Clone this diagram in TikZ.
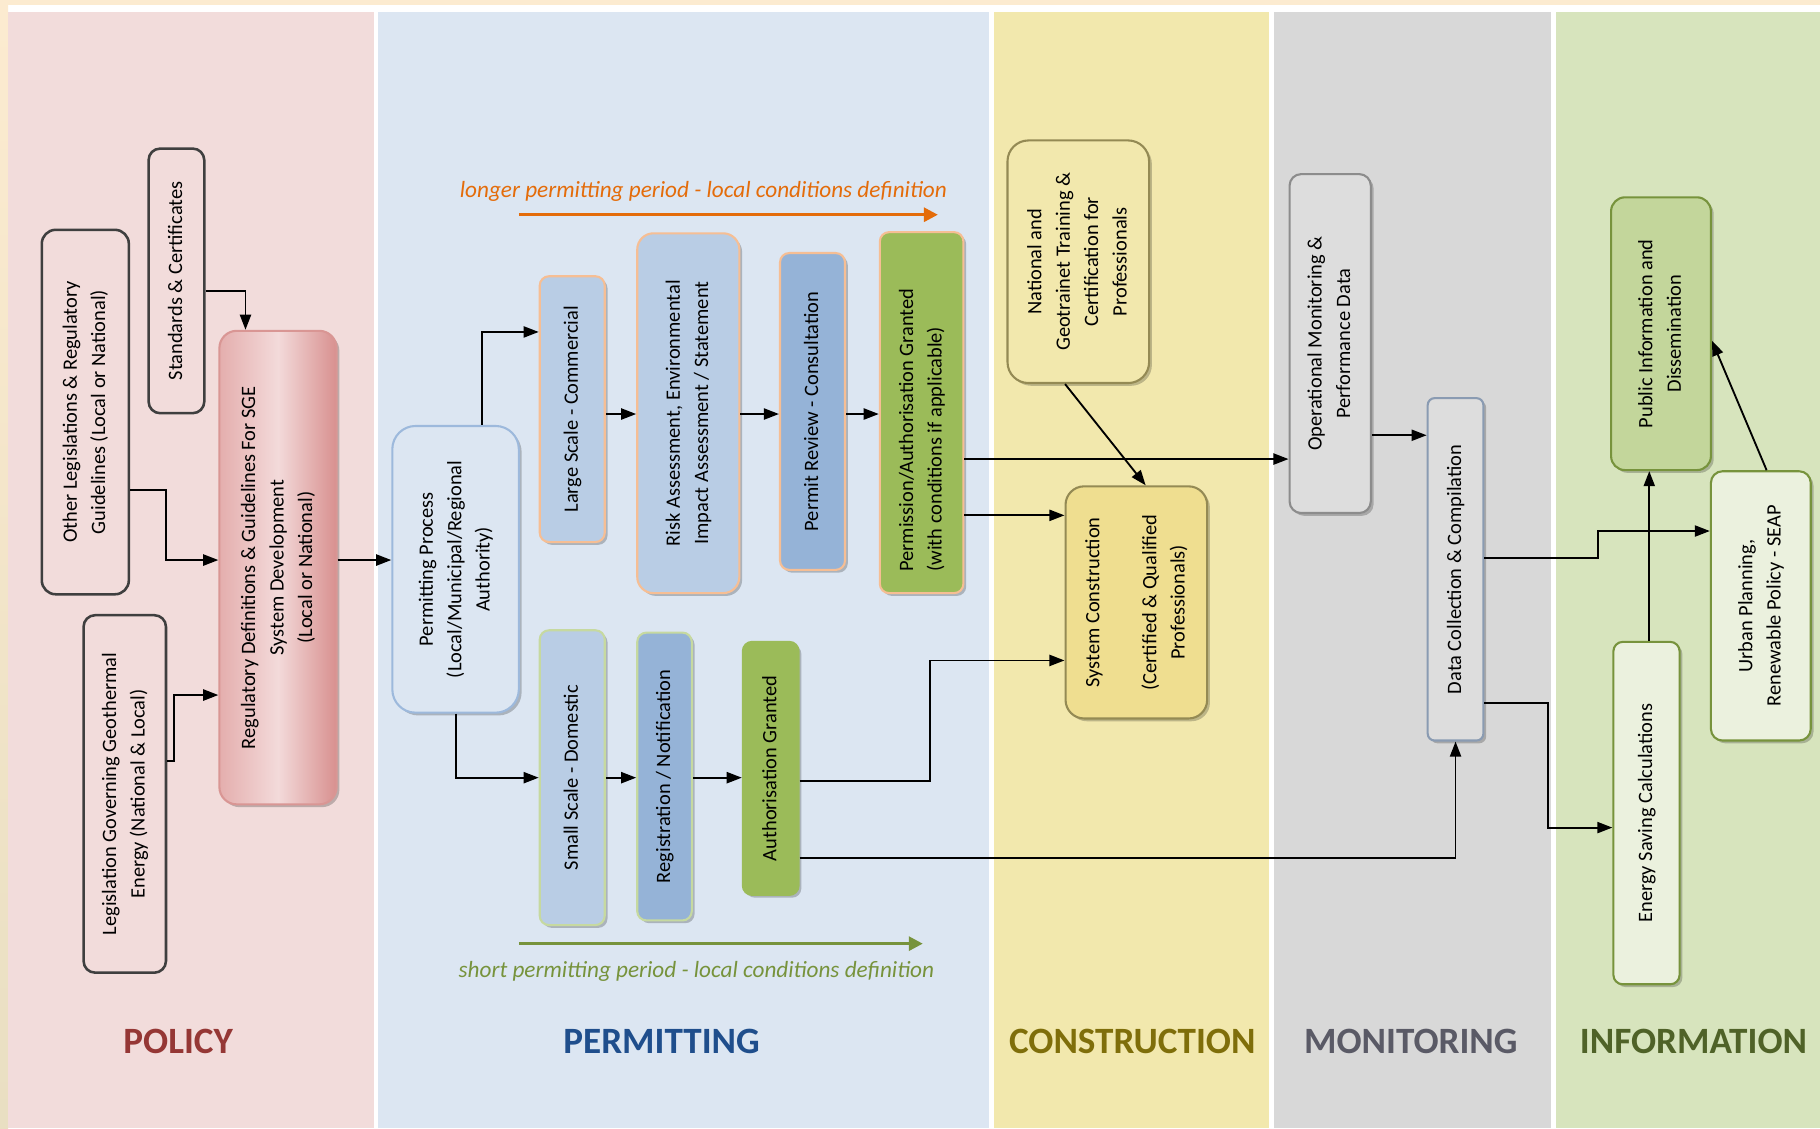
\documentclass[tikz,border=0pt]{standalone}
\usepackage{fontspec}
\setmainfont{Carlito}
\usepackage{graphicx}
\usetikzlibrary{arrows.meta,shadows,calc}

\definecolor{creamBg}{HTML}{FCEBD0}
\definecolor{creamDark}{HTML}{E9DFC2}
\definecolor{policyBg}{HTML}{F2DCDB}
\definecolor{permitBg}{HTML}{DCE6F2}
\definecolor{constrBg}{HTML}{F2E8AD}
\definecolor{monitorBg}{HTML}{D8D8D8}
\definecolor{infoBg}{HTML}{D7E4BD}
\definecolor{policyHead}{HTML}{953735}
\definecolor{permitHead}{HTML}{1F4E8C}
\definecolor{constrHead}{HTML}{7F6E0A}
\definecolor{monitorHead}{HTML}{5A5A66}
\definecolor{infoHead}{HTML}{4F6228}
\definecolor{policyLine}{HTML}{3F3F3F}
\definecolor{regLeft}{HTML}{E4AEAD}
\definecolor{regMid}{HTML}{F3DADA}
\definecolor{regRight}{HTML}{D8908F}
\definecolor{regLine}{HTML}{D99694}
\definecolor{paleBlue}{HTML}{B9CDE5}
\definecolor{midBlue}{HTML}{95B3D7}
\definecolor{procLine}{HTML}{9DB9DC}
\definecolor{peachLine}{HTML}{F6BE94}
\definecolor{leafGreen}{HTML}{9BBB59}
\definecolor{lightGreenLine}{HTML}{C6D9A0}
\definecolor{oliveLine}{HTML}{948A54}
\definecolor{constrFill}{HTML}{EFDE90}
\definecolor{greyFill}{HTML}{DDDDDD}
\definecolor{greyLine}{HTML}{8C8C8C}
\definecolor{slateLine}{HTML}{8A9BB2}
\definecolor{infoFill}{HTML}{C3D69B}
\definecolor{infoPale}{HTML}{EBF1DE}
\definecolor{infoLine}{HTML}{77933C}
\definecolor{longOrange}{HTML}{E46C0A}
\definecolor{shortGreen}{HTML}{77933C}

\newcommand{\boxfont}{\fontsize{8.8}{12.25}\selectfont}
\newcommand{\vtext}[1]{\rotatebox{90}{\begin{tabular}{@{}c@{}}#1\end{tabular}}}
\newcommand{\vltext}[1]{\rotatebox{90}{\begin{tabular}{@{}l@{}}#1\end{tabular}\hspace*{15pt}}}

\begin{document}
\begin{tikzpicture}
[x=0.5pt,y=-0.5pt,
basebox/.style={inner sep=0pt,font=\boxfont,line width=0.9pt},
softshadow/.style={drop shadow={shadow xshift=1.2pt,shadow yshift=-1.2pt,fill=black,opacity=0.22}},
policybox/.style={basebox,draw=policyLine,line width=1.1pt,rounded corners=5pt},
regbox/.style={basebox,draw=regLine,left color=regLeft,right color=regRight,middle color=regMid,rounded corners=7.5pt,softshadow},
procbox/.style={basebox,draw=procLine,fill=permitBg,rounded corners=10pt,softshadow},
longbox/.style={basebox,draw=peachLine,rounded corners=4pt,softshadow},
shortbox/.style={basebox,draw=lightGreenLine,rounded corners=4pt,softshadow},
constrbox/.style={basebox,draw=oliveLine,rounded corners=9pt,softshadow},
monbox/.style={basebox,fill=greyFill,rounded corners=5pt,softshadow},
infobox/.style={basebox,draw=infoLine,rounded corners=5pt,softshadow},
heading/.style={font=\fontsize{16}{18}\selectfont\bfseries},
flow/.style={-{Triangle[length=6.5pt,width=4.8pt]},line width=0.8pt,black},
period/.style={-{Triangle[length=6pt,width=6pt]},line width=1.3pt},
periodlabel/.style={font=\fontsize{10}{12}\selectfont\itshape}
]
\useasboundingbox (0,0) rectangle (1568,972);
\fill[white] (0,0) rectangle (1568,972);
\fill[creamBg] (0,0) rectangle (1568,4.7);
\shade[top color=creamBg,bottom color=creamDark] (0,0) rectangle (7,972);
\fill[policyBg] (7,10) rectangle (322,972);
\fill[permitBg] (326,10) rectangle (852,972);
\fill[constrBg] (856,10) rectangle (1093.5,972);
\fill[monitorBg] (1097.5,10) rectangle (1336.5,972);
\fill[infoBg] (1340.5,10) rectangle (1568,972);

\node[heading,text=policyHead] (policyTitle) at (153.5,897) {POLICY};
\node[heading,text=permitHead] (permitTitle) at (570,897) {PERMITTING};
\node[heading,text=constrHead] (constrTitle) at (975.5,897) {CONSTRUCTION};
\node[heading,text=monitorHead] (monitorTitle) at (1215.5,897) {MONITORING};
\node[heading,text=infoHead] (infoTitle) at (1459,897) {INFORMATION};

\node[policybox,minimum width=24pt,minimum height=114pt] (standards) at (152,242) {\vtext{Standards \& Certificates}};
\node[policybox,rounded corners=6pt,minimum width=37.5pt,minimum height=157pt] (otherLeg) at (73.5,355) {\vtext{Other Legislations \& Regulatory\\Guidelines (Local or National)}};
\node[policybox,minimum width=35.5pt,minimum height=154pt] (geoLeg) at (107.5,684) {\vtext{Legislation Governing Geothermal\\Energy (National \& Local)}};
\node[regbox,minimum width=50.5pt,minimum height=204pt] (regDef) at (239.5,489) {\vtext{Regulatory Definitions \& Guidelines For SGE\\System Development\\(Local or National)}};

\node[procbox,minimum width=54.5pt,minimum height=123.5pt] (permProc) at (392.5,490.5) {\vtext{Permitting Process\\(Local/Municipal/Regional\\Authority)}};
\node[longbox,fill=paleBlue,minimum width=28pt,minimum height=114.5pt] (largeScale) at (493,352.5) {\vtext{Large Scale - Commercial}};
\node[longbox,fill=paleBlue,rounded corners=7pt,minimum width=44pt,minimum height=155pt] (riskAss) at (593,356) {\vtext{Risk Assessment, Environmental\\Impact Assessment / Statement}};
\node[longbox,fill=midBlue,minimum width=28pt,minimum height=136.5pt] (permReview) at (700,354.5) {\vtext{Permit Review - Consultation}};
\node[longbox,fill=leafGreen,minimum width=36pt,minimum height=155.5pt] (permGranted) at (794,355.5) {\vltext{Permission/Authorisation Granted\\(with conditions if applicable)}};
\node[shortbox,fill=paleBlue,minimum width=28pt,minimum height=127pt] (smallScale) at (493,670) {\vtext{Small Scale - Domestic}};
\node[shortbox,fill=midBlue,minimum width=23.5pt,minimum height=124pt] (regNotif) at (572.5,669) {\vtext{Registration / Notification}};
\node[shortbox,draw=leafGreen,fill=leafGreen,minimum width=24pt,minimum height=109pt] (authGranted) at (664,662) {\vtext{Authorisation Granted}};

\node[constrbox,fill=constrBg,minimum width=61pt,minimum height=104.5pt] (training) at (929,225.5) {\vtext{National and\\Geotrainet Training \&\\Certification for\\Professionals}};
\node[constrbox,fill=constrFill,rounded corners=8pt,minimum width=61pt,minimum height=100pt] (sysConstr) at (979,519) {\vtext{System Construction\\ \\(Certified \& Qualified\\Professionals)}};

\node[monbox,draw=greyLine,minimum width=35pt,minimum height=146pt] (opMon) at (1146,296) {\vtext{Operational Monitoring \&\\Performance Data}};
\node[monbox,draw=slateLine,rounded corners=3pt,minimum width=24pt,minimum height=147.5pt] (dataColl) at (1254,490.5) {\vtext{Data Collection \& Compilation}};

\node[infobox,fill=infoFill,rounded corners=6pt,minimum width=43pt,minimum height=117.5pt] (pubInfo) at (1431,287.5) {\vtext{Public Information and\\Dissemination}};
\node[infobox,fill=infoPale,minimum width=43pt,minimum height=116pt] (urbanPlan) at (1517,522) {\vtext{Urban Planning,\\Renewable Policy - SEAP}};
\node[infobox,fill=infoPale,rounded corners=4pt,minimum width=28.5pt,minimum height=147.5pt] (energySave) at (1418.5,700.5) {\vtext{Energy Saving Calculations}};

\coordinate (longFrom) at (447,185);
\coordinate (longTo) at (808,185);
\draw[period,longOrange] (longFrom) -- (longTo);
\node[periodlabel,text=longOrange] (longText) at (606,165) {longer permitting period - local conditions definition};
\coordinate (shortFrom) at (447,813);
\coordinate (shortTo) at (795,813);
\draw[period,shortGreen] (shortFrom) -- (shortTo);
\node[periodlabel,text=shortGreen] (shortText) at (600,837) {short permitting period - local conditions definition};

\coordinate (topRow) at (0,356.7);
\coordinate (lowRow) at (0,670);
\draw[flow] ([yshift=-4.5pt]standards.east) -| ([xshift=-14pt]regDef.north);
\draw[flow] ([yshift=-33.5pt]otherLeg.east) -- ++(15.5pt,0) |- ([yshift=3.25pt]regDef.west);
\draw[flow] ([yshift=14.2pt]geoLeg.east) -- ++(2.9pt,0) |- ([yshift=-54.9pt]regDef.west);
\draw[flow] ([yshift=3.25pt]regDef.east) -- ([yshift=3.25pt]regDef.east -| permProc.west);
\draw[flow] ([xshift=11.25pt]permProc.north) |- ([yshift=33.25pt]largeScale.west);
\draw[flow] (largeScale.east |- topRow) -- (riskAss.west |- topRow);
\draw[flow] (riskAss.east |- topRow) -- (permReview.west |- topRow);
\draw[flow] (permReview.east |- topRow) -- (permGranted.west |- topRow);
\draw[flow] (permProc.south) |- (smallScale.west |- lowRow);
\draw[flow] (smallScale.east |- lowRow) -- (regNotif.west |- lowRow);
\draw[flow] (regNotif.east |- lowRow) -- (authGranted.west |- lowRow);
\draw[flow] ([yshift=-20pt]permGranted.east) -- ([yshift=-20pt]permGranted.east -| opMon.west);
\draw[flow] ([yshift=-44.25pt]permGranted.east) -- ([yshift=-44.25pt]permGranted.east -| sysConstr.west);
\draw[flow] ([yshift=-5.5pt]authGranted.east) -- ++(56pt,0) |- ([yshift=-25pt]sysConstr.west);
\draw[flow] ([yshift=-38.5pt]authGranted.east) -| (dataColl.south);
\draw[flow] ([xshift=-5.7pt]training.south) -- ([xshift=4pt]sysConstr.north);
\draw[flow] ([yshift=-39.5pt]opMon.east) -- ([yshift=-39.5pt]opMon.east -| dataColl.west);
\draw[flow] ([yshift=4.75pt]dataColl.east) -- ++(48.8pt,0) |- ([yshift=32.25pt]urbanPlan.west);
\draw[flow] ([yshift=-57.75pt]dataColl.east) -- ++(27.5pt,0) |- ([yshift=-6.25pt]energySave.west);
\draw[flow] ([xshift=1.2pt]energySave.north) -- ([xshift=1.2pt]energySave.north |- pubInfo.south);
\draw[flow] ([xshift=2.5pt]urbanPlan.north) -- ([yshift=-3pt]pubInfo.east);
\end{tikzpicture}
\end{document}
